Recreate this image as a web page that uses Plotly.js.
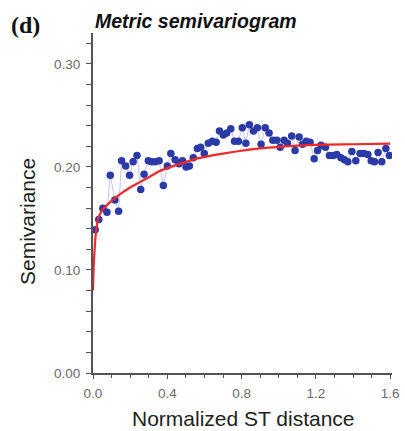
<!DOCTYPE html>
<html>
<head>
<meta charset="utf-8">
<script src="https://cdn.plot.ly/plotly-3.0.1.min.js"></script>
<style>
  html, body { margin: 0; padding: 0; background: #fff; }
  #chart { width: 405px; height: 431px; }
</style>
</head>
<body>
<div id="chart"></div>
<script>
// Empirical semivariogram (binned lags)
const lagDistance = [
  0.012, 0.031, 0.053, 0.075, 0.093, 0.118, 0.138, 0.154, 0.176, 0.197,
  0.216, 0.237, 0.257, 0.275, 0.298, 0.316, 0.335, 0.356, 0.379, 0.400,
  0.419, 0.442, 0.463, 0.482, 0.501, 0.519, 0.540, 0.562, 0.580, 0.599,
  0.621, 0.642, 0.663, 0.681, 0.702, 0.720, 0.742, 0.762, 0.783, 0.804,
  0.823, 0.842, 0.864, 0.885, 0.905, 0.927, 0.948, 0.968, 0.990, 1.008,
  1.029, 1.047, 1.070, 1.088, 1.110, 1.128, 1.148, 1.169, 1.191, 1.209,
  1.228, 1.252, 1.273, 1.294, 1.313, 1.335, 1.354, 1.372, 1.394, 1.415,
  1.438, 1.459, 1.480, 1.498, 1.516, 1.535, 1.555, 1.577, 1.596
];
const semivariance = [
  0.139, 0.149, 0.160, 0.156, 0.192, 0.168, 0.157, 0.206, 0.201, 0.192,
  0.205, 0.211, 0.178, 0.193, 0.206, 0.205, 0.205, 0.206, 0.182, 0.201,
  0.213, 0.207, 0.203, 0.206, 0.200, 0.201, 0.209, 0.218, 0.219, 0.213,
  0.223, 0.225, 0.224, 0.235, 0.231, 0.233, 0.237, 0.225, 0.225, 0.238,
  0.223, 0.241, 0.235, 0.238, 0.222, 0.238, 0.233, 0.226, 0.226, 0.219,
  0.226, 0.223, 0.230, 0.216, 0.229, 0.222, 0.225, 0.224, 0.208, 0.216,
  0.221, 0.219, 0.211, 0.211, 0.212, 0.209, 0.207, 0.205, 0.215, 0.206,
  0.213, 0.213, 0.212, 0.206, 0.205, 0.214, 0.205, 0.218, 0.211
];

// Fitted model curve
const modelDistance = [0, 0.003, 0.008, 0.015, 0.03, 0.05, 0.1, 0.15, 0.2, 0.25,
  0.3, 0.36, 0.45, 0.58, 0.7, 0.79, 0.9, 1.0, 1.2, 1.4, 1.6];
const modelValue = [0.080, 0.100, 0.118, 0.135, 0.151, 0.158, 0.167, 0.174, 0.180, 0.185,
  0.190, 0.196, 0.202, 0.209, 0.213, 0.2155, 0.218, 0.2195, 0.2215, 0.222, 0.2226];

const xTickVals = [0, 0.4, 0.8, 1.2, 1.6];
const xTickText = ["0.0", "0.4", "0.8", "1.2", "1.6"];
const yTickVals = [0, 0.1, 0.2, 0.3];
const yTickText = ["0.00", "0.10", "0.20", "0.30"];

const axisColor = "#555";
const sans = "Liberation Sans, Arial, sans-serif";
const tickFont = { family: sans, size: 13.5, color: "#6a6a6a" };
const titleFont = { family: sans, size: 21, color: "#222" };

// plot area in pixels, used to place free-standing labels
const plotLeft = 93, plotTop = 33, plotW = 299, plotH = 340;
const px = (x) => (x - plotLeft) / plotW;
const py = (y) => (plotTop + plotH - y) / plotH;

const traces = [
  {
    x: lagDistance, y: semivariance,
    type: "scatter", mode: "lines+markers",
    line: { color: "rgba(150,160,235,0.6)", width: 1 },
    marker: { color: "#2b3aa6", size: 7.5 },
    hoverinfo: "x+y"
  },
  {
    x: modelDistance, y: modelValue,
    type: "scatter", mode: "lines",
    line: { color: "#f02828", width: 2.2, shape: "spline", smoothing: 0.6 },
    hoverinfo: "x+y"
  }
];

const layout = {
  width: 405, height: 431,
  margin: { l: plotLeft, r: 405 - plotLeft - plotW, t: plotTop, b: 431 - plotTop - plotH },
  paper_bgcolor: "#fff", plot_bgcolor: "#fff",
  showlegend: false,
  title: {
    text: "Metric semivariogram",
    font: { family: sans, size: 19.5, color: "#111", weight: "bold", style: "italic" },
    x: 95 / 405, xanchor: "left", xref: "container",
    y: 1 - 21 / 431, yanchor: "middle", yref: "container"
  },
  xaxis: {
    range: [0, 1.61],
    showgrid: false, zeroline: false,
    showline: true, linecolor: axisColor, linewidth: 2,
    ticks: "outside", ticklen: 4, tickcolor: axisColor, tickwidth: 1,
    tickvals: xTickVals, ticktext: xTickText,
    tickfont: tickFont,
    ticklabelstandoff: 3,
    minor: { dtick: 0.1, tick0: 0, ticks: "outside", ticklen: 3, tickcolor: axisColor }
  },
  yaxis: {
    range: [0, 0.33],
    showgrid: false, zeroline: false,
    showline: true, linecolor: axisColor, linewidth: 2,
    ticks: "outside", ticklen: 5, tickcolor: axisColor, tickwidth: 1,
    tickvals: yTickVals, ticktext: yTickText,
    tickfont: tickFont,
    ticklabelstandoff: 3,
    minor: { dtick: 0.02, tick0: 0, ticks: "outside", ticklen: 5, tickcolor: axisColor }
  },
  annotations: [
    {
      text: "(d)", xref: "paper", yref: "paper",
      x: px(9), y: py(25), xanchor: "left", yanchor: "middle",
      showarrow: false,
      font: { family: "Liberation Serif, Times New Roman, serif", size: 24, color: "#111", weight: "bold" }
    },
    {
      text: "Semivariance", xref: "paper", yref: "paper",
      x: px(27), y: py(222), xanchor: "center", yanchor: "middle",
      textangle: -90, showarrow: false, font: titleFont
    },
    {
      text: "Normalized ST distance", xref: "paper", yref: "paper",
      x: px(243), y: py(418), xanchor: "center", yanchor: "middle",
      showarrow: false, font: titleFont
    }
  ]
};

Plotly.newPlot("chart", traces, layout, { displayModeBar: false, staticPlot: true });
</script>
</body>
</html>
